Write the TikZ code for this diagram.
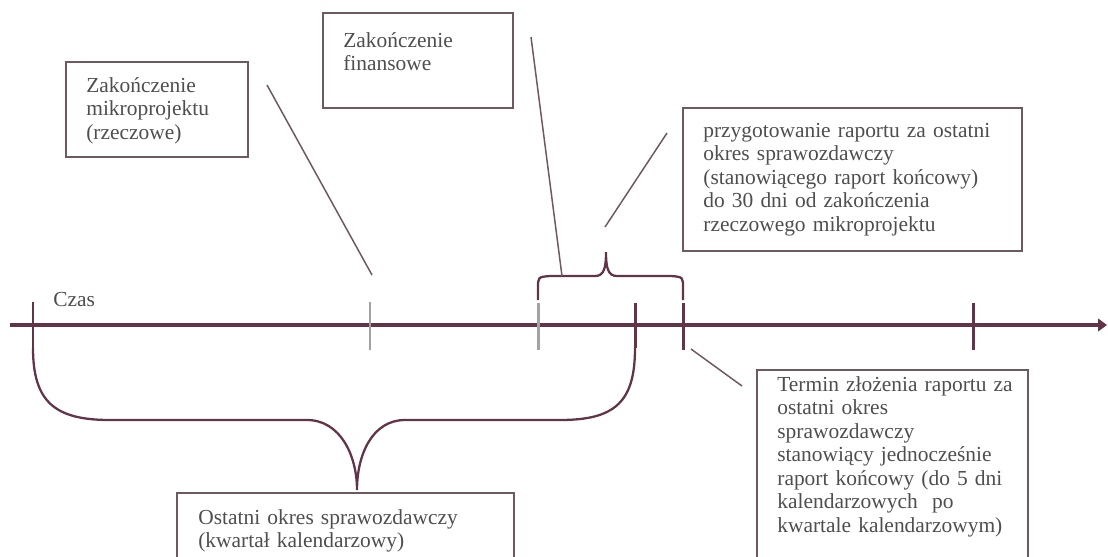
\documentclass[tikz,border=0pt]{standalone}
\usepackage{fontspec}
\setmainfont{Liberation Serif}
\usepackage{tikz}
\usetikzlibrary{arrows.meta}

\definecolor{axisPurple}{RGB}{98,52,74}
\definecolor{edgeGrey}{RGB}{112,88,98}
\definecolor{inkGrey}{RGB}{78,78,78}
\definecolor{tickGrey}{RGB}{165,160,162}

\begin{document}
\begin{tikzpicture}[x=0.02cm,y=-0.02cm,
  axis/.style={draw=axisPurple,line width=2.3pt},
  mark line/.style={draw=axisPurple,line width=1.7pt},
  soft line/.style={draw=tickGrey,line width=1.7pt},
  bracket/.style={draw=axisPurple,line width=1.3pt},
  lead/.style={draw=edgeGrey,line width=0.85pt},
  frame/.style={draw=edgeGrey,line width=0.85pt},
  lbl/.style={inner sep=0pt,anchor=base west,align=left,text width=6cm,
    text=inkGrey,font=\fontsize{12.2}{13.4}\selectfont}]
\useasboundingbox (0,0) rectangle (1108,556);
\clip (0,0) rectangle (1108,556);

% time axis
\coordinate (axisL) at (10,325);
\coordinate (axisR) at (1107,325);
\draw [axis,-{Triangle[length=5pt,width=7pt]}] (axisL) -- (axisR);
\node [lbl,text width=2cm] (czas) at (53,306) {Czas};

\coordinate (tStart) at (33,325);
\coordinate (tRzecz) at (370,325);
\coordinate (tPrep) at (538,325);
\coordinate (tQuart) at (635,325);
\coordinate (tReport) at (683,325);
\coordinate (tNext) at (973,325);
\draw [mark line] ([yshift=-23*0.02cm]tStart) -- ([yshift=23*0.02cm]tStart);
\draw [soft line] ([yshift=-25*0.02cm]tRzecz) -- ([yshift=23*0.02cm]tRzecz);
\draw [soft line] ([yshift=-25*0.02cm]tPrep) -- ([yshift=22*0.02cm]tPrep);
\draw [mark line] ([yshift=-23*0.02cm]tQuart) -- ([yshift=22*0.02cm]tQuart);
\draw [mark line] ([yshift=-25*0.02cm]tReport) -- ([yshift=22*0.02cm]tReport);
\draw [mark line] ([yshift=-25*0.02cm]tNext) -- ([yshift=22*0.02cm]tNext);

% braces
\draw [bracket] (538,300) -- (538,288) .. controls (538,277) .. (550,276)
  -- (595,276) .. controls (604,276) and (606,268) .. (606,252)
  .. controls (606,268) and (608,276) .. (617,276) -- (671,276)
  .. controls (683,277) .. (683,288) -- (683,300);
\draw [bracket] (33,348) .. controls (33,402) and (55,420) .. (110,420)
  -- (307,420) .. controls (340,420) and (357,455) .. (357,490)
  .. controls (357,455) and (372,420) .. (405,420) -- (560,420)
  .. controls (615,420) and (635,402) .. (635,348);

% boxes
\draw [frame] (66,62) rectangle (248,157);
\node [lbl] (rzeczTxt) at (86,92) {Zakończenie\\mikroprojektu\\(rzeczowe)};
\draw [frame] (323,13) rectangle (513,108);
\node [lbl] (finTxt) at (343,47) {Zakończenie\\finansowe};
\draw [frame] (683,108) rectangle (1022,251);
\node [lbl] (prepTxt) at (703,137) {przygotowanie raportu za ostatni\\okres sprawozdawczy\\(stanowiącego raport końcowy)\\do 30 dni od zakończenia\\rzeczowego mikroprojektu};
\draw [frame] (757,370) rectangle (1028,580);
\node [lbl] (termTxt) at (777,391) {Termin złożenia raportu za\\ostatni okres\\sprawozdawczy\\stanowiący jednocześnie\\raport końcowy (do 5 dni\\kalendarzowych\ \ po\\kwartale kalendarzowym)};
\draw [frame] (177,493) rectangle (514,580);
\node [lbl] (quartTxt) at (198,524) {Ostatni okres sprawozdawczy\\(kwartał kalendarzowy)};

% leads
\coordinate (rzeczEnd) at (267,85);
\coordinate (rzeczTip) at (372,275);
\coordinate (finEnd) at (531,37);
\coordinate (finTip) at (562,276);
\coordinate (prepEnd) at (667,133);
\coordinate (prepTip) at (605,227);
\coordinate (termEnd) at (742,386);
\coordinate (termTip) at (691,349);
\draw [lead] (rzeczEnd) -- (rzeczTip);
\draw [lead] (finEnd) -- (finTip);
\draw [lead] (prepEnd) -- (prepTip);
\draw [lead] (termEnd) -- (termTip);
\end{tikzpicture}
\end{document}
